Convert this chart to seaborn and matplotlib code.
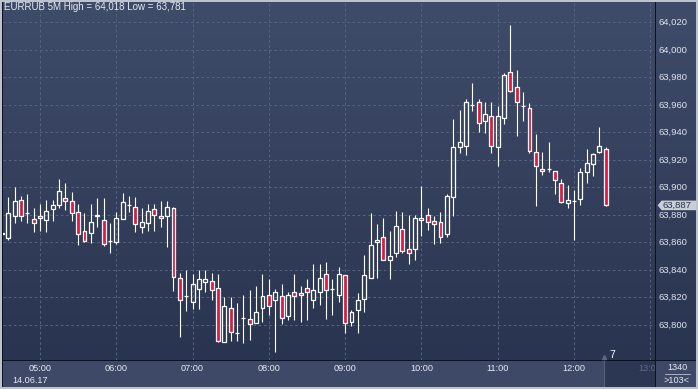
import numpy as np
import pandas as pd
import seaborn as sns
import matplotlib.pyplot as plt
from matplotlib.colors import LinearSegmentedColormap
from matplotlib.patches import Polygon, Rectangle

sns.set_theme(style="dark")
plt.rcParams['font.family'] = ['Liberation Sans', 'DejaVu Sans']

# EURRUB, 5 minute candles starting 04:30
opens = [63.8660, 63.8635, 63.8795, 63.8909, 63.8812, 63.8768, 63.8790, 63.8761, 63.8841, 63.8875,
         63.8921, 63.8899, 63.8819, 63.8681, 63.8667, 63.8790, 63.8761, 63.8611, 63.8601, 63.8768,
         63.8873, 63.8856, 63.8710, 63.8739, 63.8841, 63.8790, 63.8795, 63.8848, 63.8339, 63.8211,
         63.8170, 63.8264, 63.8310, 63.8318, 63.8267, 63.7879, 63.8121, 63.7942, 63.8051, 63.8041,
         63.8017, 63.8126, 63.8216, 63.8179, 63.8208, 63.8068, 63.8240, 63.8230, 63.8267, 63.8179,
         63.8238, 63.8368, 63.8264, 63.8216, 63.8361, 63.8024, 63.8107, 63.8187, 63.8344, 63.8601,
         63.8638, 63.8475, 63.8524, 63.8696, 63.8550, 63.8555, 63.8764, 63.8797, 63.8759, 63.8747,
         63.8659, 63.8928, 63.9297, 63.9304, 63.9597, 63.9619, 63.9486, 63.9517, 63.9297, 63.9508,
         63.9837, 63.9728, 63.9595, 63.9576, 63.9256, 63.9137, 63.9137, 63.9117, 63.9030, 63.8890,
         63.8899, 63.8919, 63.9115, 63.9168, 63.9256, 63.9277]
highs = [63.8671, 63.8933, 63.9006, 63.8938, 63.8953, 63.8853, 63.8882, 63.8909, 63.8909, 63.9062,
         63.9030, 63.8970, 63.8880, 63.8817, 63.8880, 63.8924, 63.8924, 63.8742, 63.8824, 63.8960,
         63.8938, 63.8931, 63.8848, 63.8882, 63.8882, 63.8902, 63.8899, 63.8861, 63.8381, 63.8400,
         63.8371, 63.8400, 63.8400, 63.8381, 63.8371, 63.8201, 63.8204, 63.8162, 63.8218, 63.8255,
         63.8286, 63.8371, 63.8335, 63.8259, 63.8298, 63.8240, 63.8371, 63.8284, 63.8335, 63.8441,
         63.8446, 63.8458, 63.8332, 63.8422, 63.8361, 63.8109, 63.8230, 63.8509, 63.8817, 63.8737,
         63.8778, 63.8684, 63.8829, 63.8822, 63.8802, 63.8800, 63.9011, 63.8851, 63.8793, 63.8822,
         63.8953, 63.9498, 63.9563, 63.9641, 63.9760, 63.9641, 63.9622, 63.9622, 63.9593, 63.9833,
         64.0182, 63.9854, 63.9694, 63.9614, 63.9387, 63.9258, 63.9331, 63.9117, 63.9059, 63.9018,
         63.8982, 63.9139, 63.9280, 63.9248, 63.9440, 63.9294]
lows = [63.8660, 63.8620, 63.8739, 63.8759, 63.8739, 63.8679, 63.8684, 63.8679, 63.8759, 63.8848,
        63.8836, 63.8759, 63.8584, 63.8606, 63.8599, 63.8715, 63.8577, 63.8526, 63.8587, 63.8768,
        63.8822, 63.8679, 63.8667, 63.8686, 63.8686, 63.8715, 63.8570, 63.8250, 63.7915, 63.8104,
        63.8116, 63.8116, 63.8240, 63.8182, 63.7879, 63.7879, 63.7884, 63.7886, 63.7867, 63.7891,
        63.8017, 63.8024, 63.8073, 63.7806, 63.8005, 63.8036, 63.8036, 63.8024, 63.8036, 63.8121,
        63.8145, 63.8044, 63.8073, 63.8170, 63.7939, 63.7995, 63.7944, 63.8092, 63.8344, 63.8344,
        63.8470, 63.8332, 63.8497, 63.8526, 63.8441, 63.8475, 63.8650, 63.8691, 63.8587, 63.8599,
        63.8638, 63.8793, 63.9253, 63.9239, 63.9559, 63.9406, 63.9399, 63.9253, 63.9159, 63.9464,
        63.9697, 63.9377, 63.9486, 63.9248, 63.8868, 63.9093, 63.9115, 63.8955, 63.8890, 63.8853,
        63.8618, 63.8875, 63.9035, 63.9086, 63.9248, 63.8868]
closes = [63.8671, 63.8812, 63.8902, 63.8795, 63.8812, 63.8739, 63.8776, 63.8829, 63.8870, 63.8972,
          63.8904, 63.8812, 63.8659, 63.8613, 63.8747, 63.8800, 63.8587, 63.8611, 63.8776, 63.8892,
          63.8873, 63.8732, 63.8747, 63.8827, 63.8798, 63.8776, 63.8856, 63.8347, 63.8179, 63.8211,
          63.8296, 63.8332, 63.8332, 63.8252, 63.7886, 63.8138, 63.7947, 63.7942, 63.8051, 63.8010,
          63.8092, 63.8208, 63.8136, 63.8240, 63.8053, 63.8216, 63.8211, 63.8216, 63.8238, 63.8252,
          63.8339, 63.8252, 63.8264, 63.8368, 63.8017, 63.8092, 63.8179, 63.8361, 63.8579, 63.8616,
          63.8470, 63.8504, 63.8718, 63.8536, 63.8526, 63.8776, 63.8776, 63.8747, 63.8732, 63.8638,
          63.8938, 63.9292, 63.9328, 63.9619, 63.9597, 63.9467, 63.9532, 63.9304, 63.9517, 63.9816,
          63.9704, 63.9619, 63.9595, 63.9268, 63.9159, 63.9117, 63.9137, 63.9052, 63.8897, 63.8907,
          63.8899, 63.9110, 63.9176, 63.9241, 63.9299, 63.8870]

start_time = "04:30"
hour_labels = ["05:00", "06:00", "07:00", "08:00", "09:00", "10:00", "11:00", "12:00", "13:00"]
price_ticks = [63.800, 63.820, 63.840, 63.860, 63.880, 63.900, 63.920, 63.940, 63.960, 63.980, 64.000, 64.020]
title = "EURRUB 5M High = 64,018 Low = 63,781"
last_price = 63.887

df = pd.DataFrame({"open": opens, "high": highs, "low": lows, "close": closes})
df["time"] = pd.date_range("2017-06-14 " + start_time, periods=len(df), freq="5min")
df["idx"] = np.arange(len(df))
df["top"] = df[["open", "close"]].max(axis=1)
df["bot"] = df[["open", "close"]].min(axis=1)
df["up"] = df["close"] >= df["open"]
# bar position of each hour label (13:00 lies past the last candle)
hour_pos = [(pd.Timestamp("2017-06-14 " + h) - df["time"].iloc[0]) / pd.Timedelta("5min")
            for h in hour_labels]

W, H = 698, 389
fig = plt.figure(figsize=(W / 100, H / 100), dpi=100, facecolor="#bcc3ce")


def px_axes(x0, y0, x1, y1, color):
    ax = fig.add_axes([x0 / W, 1 - y1 / H, (x1 - x0) / W, (y1 - y0) / H])
    ax.set_facecolor(color)
    ax.set_xticks([])
    ax.set_yticks([])
    for s in ax.spines.values():
        s.set_visible(False)
    return ax


frame = px_axes(2, 2, 696, 387, "#0d1220")
main = px_axes(3, 2, 655, 360, "#33405e")
right = px_axes(656, 2, 696, 360, "#33405e")
bottom = px_axes(3, 361, 655, 387, "#3d4966")
corner = px_axes(656, 361, 696, 387, "#3d4966")

cmap = LinearSegmentedColormap.from_list("bg", ["#293450", "#3f4c69"])
grad = np.linspace(0, 1, 256).reshape(-1, 1)
for ax in (main, right):
    ax.imshow(grad, extent=[0, 1, 0, 1], transform=ax.transAxes, origin="lower",
              aspect="auto", cmap=cmap, zorder=0)

# scales: 05:00 at pixel 40, 6.357 px per candle; 63.800 at pixel 325, 1375 px per unit
px_per_bar = 6.357
x0 = hour_pos[0] - (40 - 3) / px_per_bar
x1 = hour_pos[0] + (655 - 40) / px_per_bar
y_lo = 63.800 - (360 - 325) / 1375
y_hi = 63.800 + (325 - 2) / 1375
main.set_xlim(x0, x1)
main.set_ylim(y_lo, y_hi)
right.set_xlim(0, 1)
right.set_ylim(y_lo, y_hi)
bottom.set_xlim(x0, x1)
bottom.set_ylim(0, 1)

grid_kw = dict(color="#56637f", lw=0.75, linestyle=(0, (2.5, 2.5)), zorder=1)
for p in price_ticks:
    main.axhline(p, **grid_kw)
for xp in hour_pos:
    main.axvline(xp, **grid_kw)

red = "#e0173f"
main.vlines(df["idx"], df["top"], df["high"], color="white", lw=0.8, zorder=3)
main.vlines(df["idx"], df["low"], df["bot"], color="white", lw=0.8, zorder=3)
up = df[df["up"]]
dn = df[~df["up"]]
main.bar(up["idx"], up["top"] - up["bot"], bottom=up["bot"], width=0.62,
         facecolor="none", edgecolor="white", lw=0.9, zorder=4)
main.bar(dn["idx"], dn["top"] - dn["bot"], bottom=dn["bot"], width=0.62,
         facecolor=red, edgecolor="white", lw=0.9, zorder=4)

# marker and counter near the bottom right
y_mark = 63.800 - (355 - 325) / 1375
main.plot([hour_pos[0] + (603.5 - 40) / px_per_bar], [y_mark - 0.0015], marker="^", ms=3,
          color="#5a6580", zorder=5)
main.text(hour_pos[0] + (612 - 40) / px_per_bar, y_mark, "7", color="white", fontsize=7.5,
          ha="center", va="center", zorder=5)

fig.text(4 / W, 1 - 7.5 / H, title, color="#e6eaf2", fontsize=7, ha="left", va="center")

# price axis
for p in price_ticks:
    right.text(0.06, p, f"{p:.3f}".replace(".", ","), color="#dfe4ee", fontsize=6.8,
               ha="left", va="center", transform=right.get_yaxis_transform())
tag_h = 0.0035
tag = Polygon([[0.04, last_price], [0.14, last_price + tag_h], [1.0, last_price + tag_h],
               [1.0, last_price - tag_h], [0.14, last_price - tag_h]],
              closed=True, facecolor="#c9cdd5", edgecolor="none", zorder=5)
right.add_patch(tag)
right.text(0.16, last_price, f"{last_price:.3f}".replace(".", ","), color="#27324d",
           fontsize=6.8, ha="left", va="center", zorder=6)

# time axis
box_left = hour_pos[0] + (604 - 40) / px_per_bar
bottom.add_patch(Rectangle((box_left, -0.1), x1 - box_left + 1, 1.2, facecolor="#2c3753",
                           edgecolor="#56617c", lw=0.8, zorder=1))
for xp, lab in zip(hour_pos, hour_labels):
    color = "#5f6b86" if xp > box_left else "#e6eaf2"
    bottom.text(xp, 0.72, lab, color=color, fontsize=6.6, ha="center", va="center",
                clip_on=True, zorder=2)
bottom.text(hour_pos[0] + (12.5 - 40) / px_per_bar, 0.24, df["time"].iloc[0].strftime("%d.%m.%y"),
            color="#e6eaf2", fontsize=6.6, ha="left", va="center")

corner.text(0.525, 0.75, "1340", color="#e6eaf2", fontsize=6.6, ha="center", va="center")
corner.plot([0.22, 0.85], [0.49, 0.49], color="#aab2c2", lw=0.7)
corner.text(0.525, 0.24, ">103<", color="#e6eaf2", fontsize=6.6, ha="center", va="center")
corner.set_xlim(0, 1)
corner.set_ylim(0, 1)

fig.savefig("out.png", dpi=100, facecolor=fig.get_facecolor())
